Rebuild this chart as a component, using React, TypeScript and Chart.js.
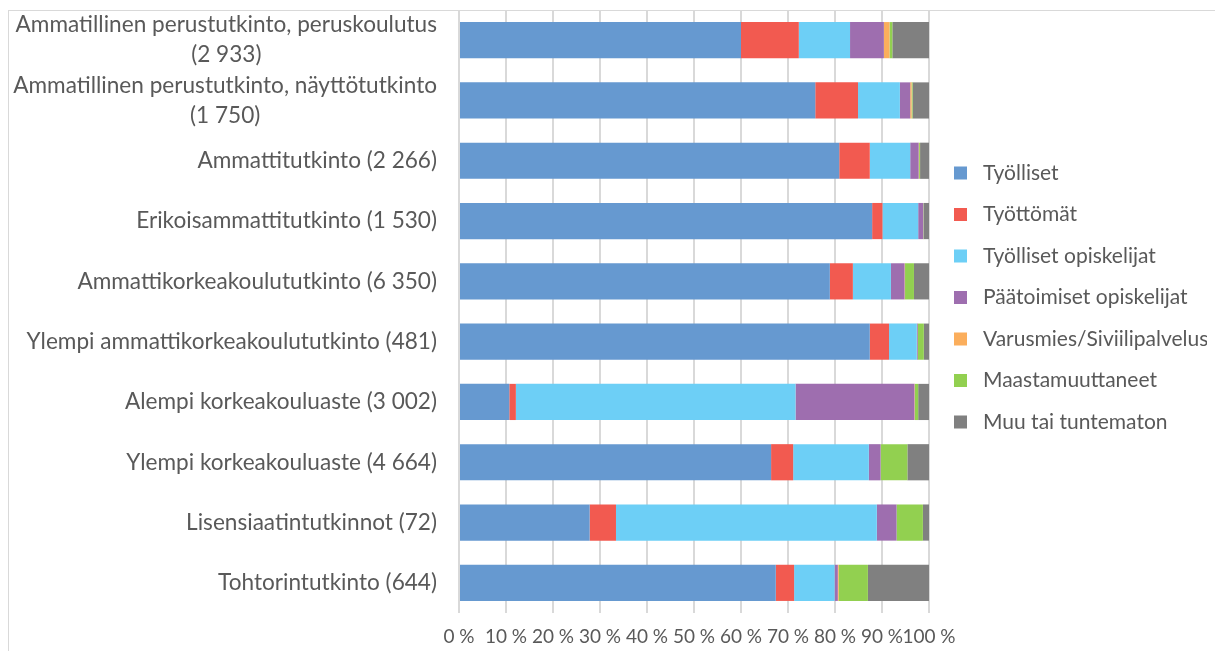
import React, { useEffect, useRef } from "react";
import { Chart, registerables } from "chart.js";

Chart.register(...registerables);

const categories: (string | string[])[] = [
  ["Ammatillinen perustutkinto, peruskoulutus", "(2 933)"],
  ["Ammatillinen perustutkinto, näyttötutkinto", "(1 750)"],
  "Ammattitutkinto (2 266)",
  "Erikoisammattitutkinto (1 530)",
  "Ammattikorkeakoulututkinto (6 350)",
  "Ylempi ammattikorkeakoulututkinto (481)",
  "Alempi korkeakouluaste (3 002)",
  "Ylempi korkeakouluaste (4 664)",
  "Lisensiaatintutkinnot (72)",
  "Tohtorintutkinto (644)",
];

const tyolliset = [60.0, 75.8, 80.9, 87.9, 78.9, 87.4, 10.7, 66.4, 27.8, 67.4];
const tyottomat = [12.3, 9.1, 6.5, 2.2, 4.9, 4.1, 1.4, 4.7, 5.6, 3.9];
const tyollisetOpiskelijat = [10.9, 8.9, 8.6, 7.6, 8.1, 5.9, 59.5, 16.1, 55.5, 8.6];
const paatoimisetOpiskelijat = [7.2, 2.2, 1.8, 1.1, 2.9, 0.2, 25.3, 2.5, 4.2, 0.7];
const varusmies = [1.2, 0.3, 0.1, 0.0, 0.1, 0.0, 0.1, 0.0, 0.0, 0.2];
const maastamuuttaneet = [0.6, 0.2, 0.2, 0.1, 1.9, 1.3, 0.7, 5.7, 5.6, 6.2];
const muu = [7.8, 3.5, 1.9, 1.1, 3.2, 1.1, 2.3, 4.6, 1.3, 13.0];

const seriesNames = [
  "Työlliset",
  "Työttömät",
  "Työlliset opiskelijat",
  "Päätoimiset opiskelijat",
  "Varusmies/Siviilipalvelus",
  "Maastamuuttaneet",
  "Muu tai tuntematon",
];
const seriesValues = [
  tyolliset,
  tyottomat,
  tyollisetOpiskelijat,
  paatoimisetOpiskelijat,
  varusmies,
  maastamuuttaneet,
  muu,
];
const seriesColors = ["#6699D0", "#F25A50", "#6DCFF6", "#9E6EAF", "#FBAE5C", "#92D050", "#808080"];

const xTicks = [0, 10, 20, 30, 40, 50, 60, 70, 80, 90, 100];

const FONT = "Lato, 'Open Sans', sans-serif";
const TEXT = "#595959";
const FS_X = 19;
const FS_Y = 22.6;
const FS_LEG = 21;

const labelsPlugin = {
  id: "customLabels",
  afterDraw(chart: any) {
    const ctx = chart.ctx;
    const yScale = chart.scales.y;
    ctx.save();
    ctx.font = `${FS_Y}px ${FONT}`;
    ctx.fillStyle = TEXT;
    ctx.textBaseline = "middle";
    ctx.textAlign = "center";
    const right = chart.chartArea.left - 22;
    const lh = 30;
    categories.forEach((lab, i) => {
      const lines = Array.isArray(lab) ? lab : [lab];
      const maxW = Math.max(...lines.map((l) => ctx.measureText(l).width));
      const cx = right - maxW / 2;
      const cy = yScale.getPixelForTick(i);
      const y0 = cy - ((lines.length - 1) * lh) / 2;
      lines.forEach((l, j) => ctx.fillText(l, cx, y0 + j * lh));
    });
    // legend
    ctx.font = `${FS_LEG}px ${FONT}`;
    const lx = chart.chartArea.right + 25;
    const ly0 = 165;
    const step = 41.5;
    ctx.textAlign = "left";
    seriesNames.forEach((n, i) => {
      const y = ly0 + i * step;
      ctx.fillStyle = seriesColors[i];
      ctx.fillRect(lx, y - 6.5, 13, 13);
      ctx.fillStyle = TEXT;
      ctx.fillText(n, lx + 29, y);
    });
    ctx.restore();
  },
};

export default function App() {
  const ref = useRef<HTMLCanvasElement>(null);
  useEffect(() => {
    if (!ref.current) return;
    const chart = new Chart(ref.current, {
      type: "bar",
      data: {
        labels: categories as any,
        datasets: seriesNames.map((n, i) => ({
          label: n,
          data: seriesValues[i],
          backgroundColor: seriesColors[i],
          borderWidth: 0,
          barPercentage: 1,
          categoryPercentage: 0.6,
        })),
      },
      options: {
        indexAxis: "y",
        animation: false,
        responsive: true,
        maintainAspectRatio: false,
        layout: { padding: { left: 0, right: 278, top: 2, bottom: 0 } },
        plugins: { legend: { display: false }, tooltip: { enabled: false } },
        scales: {
          x: {
            stacked: true,
            min: 0,
            max: 100,
            afterFit: (s: any) => {
              s.height = 38;
            },
            afterBuildTicks: (s: any) => {
              s.ticks = xTicks.map((v) => ({ value: v }));
            },
            grid: { color: "#D9D9D9", lineWidth: 2, drawTicks: false },
            border: { display: false },
            ticks: {
              autoSkip: false,
              maxRotation: 0,
              minRotation: 0,
              padding: 12,
              color: TEXT,
              font: { family: FONT, size: FS_X },
              callback: (v: any) => `${v} %`,
            },
          },
          y: {
            stacked: true,
            afterFit: (s: any) => {
              s.width = 451;
            },
            grid: { display: false },
            border: { display: false },
            ticks: { display: false },
          },
        },
      },
      plugins: [labelsPlugin],
    });
    return () => chart.destroy();
  }, []);
  return (
    <>
      <div
        style={{
          position: "absolute",
          left: 8,
          top: 10,
          width: 1400,
          height: 900,
          borderLeft: "1px solid #D9D9D9",
          borderTop: "1px solid #D9D9D9",
          pointerEvents: "none",
        }}
      />
      <div style={{ position: "relative", width: 1199, height: 643 }}>
        <canvas ref={ref} />
      </div>
    </>
  );
}
